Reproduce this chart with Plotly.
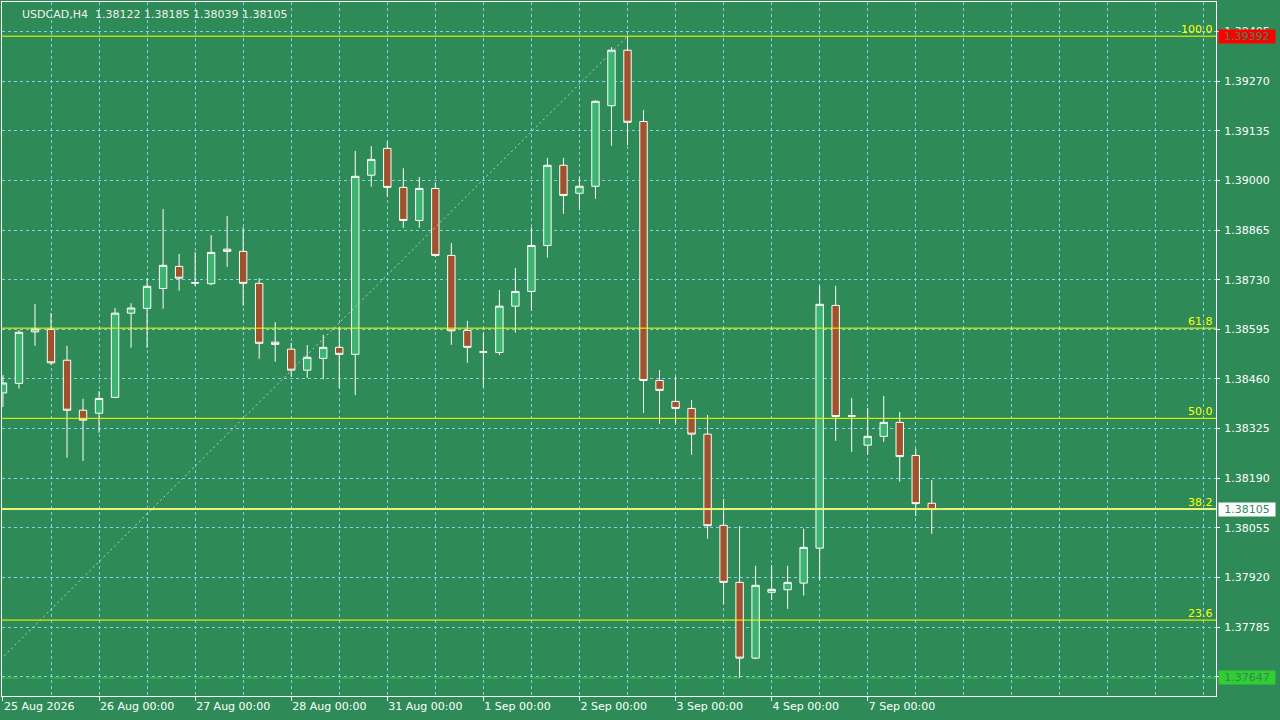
import plotly.graph_objects as go

# ---- data (USDCAD H4) ----
bar_index = list(range(59))
opens = [1.38422, 1.38448, 1.38588, 1.38595, 1.38511, 1.38375, 1.38367, 1.38410, 1.38639, 1.38652,
         1.38706, 1.38766, 1.38722, 1.38719, 1.38813, 1.38807, 1.38720, 1.38560, 1.38541, 1.38484,
         1.38516, 1.38546, 1.38527, 1.39014, 1.39087, 1.38981, 1.38891, 1.38978, 1.38796, 1.38592,
         1.38534, 1.38532, 1.38658, 1.38698, 1.38823, 1.39041, 1.38965, 1.38984, 1.39203, 1.39354,
         1.39160, 1.38456, 1.38399, 1.38380, 1.38310, 1.38062, 1.37907, 1.37701, 1.37880, 1.37887,
         1.37905, 1.38000, 1.38660, 1.38360, 1.38280, 1.38304, 1.38342, 1.38252, 1.38122]
highs = [1.38471, 1.38593, 1.38664, 1.38639, 1.38550, 1.38406, 1.38427, 1.38653, 1.38666, 1.38734,
         1.38922, 1.38800, 1.38805, 1.38851, 1.38903, 1.38872, 1.38734, 1.38615, 1.38558, 1.38552,
         1.38580, 1.38599, 1.39080, 1.39093, 1.39107, 1.39033, 1.39009, 1.38993, 1.38830, 1.38618,
         1.38586, 1.38702, 1.38762, 1.38872, 1.39061, 1.39061, 1.39010, 1.39218, 1.39362, 1.39392,
         1.39191, 1.38484, 1.38466, 1.38403, 1.38362, 1.38134, 1.38060, 1.37952, 1.37954, 1.37952,
         1.38053, 1.38713, 1.38713, 1.38408, 1.38381, 1.38414, 1.38370, 1.38270, 1.38185]
lows = [1.38384, 1.38434, 1.38550, 1.38498, 1.38246, 1.38237, 1.38314, 1.38408, 1.38545, 1.38545,
        1.38651, 1.38700, 1.38713, 1.38715, 1.38765, 1.38659, 1.38515, 1.38507, 1.38466, 1.38463,
        1.38459, 1.38435, 1.38416, 1.38983, 1.38955, 1.38871, 1.38871, 1.38792, 1.38553, 1.38504,
        1.38437, 1.38525, 1.38586, 1.38646, 1.38790, 1.38909, 1.38919, 1.38950, 1.39094, 1.39096,
        1.38368, 1.38338, 1.38339, 1.38254, 1.38026, 1.37848, 1.37647, 1.37698, 1.37859, 1.37835,
        1.37871, 1.37913, 1.38292, 1.38262, 1.38254, 1.38289, 1.38181, 1.38087, 1.38039]
closes = [1.38449, 1.38587, 1.38596, 1.38504, 1.38375, 1.38348, 1.38407, 1.38639, 1.38653, 1.38712,
          1.38769, 1.38734, 1.38721, 1.38804, 1.38807, 1.38720, 1.38557, 1.38554, 1.38484, 1.38519,
          1.38546, 1.38527, 1.39011, 1.39057, 1.38981, 1.38891, 1.38978, 1.38796, 1.38591, 1.38546,
          1.38533, 1.38658, 1.38698, 1.38823, 1.39041, 1.38959, 1.38984, 1.39215, 1.39354, 1.39158,
          1.38456, 1.38429, 1.38380, 1.38310, 1.38061, 1.37907, 1.37701, 1.37899, 1.37888, 1.37907,
          1.38002, 1.38663, 1.38358, 1.38359, 1.38304, 1.38342, 1.38249, 1.38121, 1.38105]

day_label_index = [0, 6, 12, 18, 24, 30, 36, 42, 48, 54]
day_labels = ["25 Aug 2026", "26 Aug 00:00", "27 Aug 00:00", "28 Aug 00:00", "31 Aug 00:00",
              "1 Sep 00:00", "2 Sep 00:00", "3 Sep 00:00", "4 Sep 00:00", "7 Sep 00:00"]

price_ticks = [1.37650, 1.37785, 1.37920, 1.38055, 1.38190, 1.38325, 1.38460, 1.38595,
               1.38730, 1.38865, 1.39000, 1.39135, 1.39270, 1.39405]

fib_levels = [100.0, 61.8, 50.0, 38.2, 23.6]
fib_high = 1.39392
fib_low = 1.37314
fib_start_index = -9
fib_end_index = 39

symbol_text = "USDCAD,H4"
bid_price = 1.38105
high_mark = 1.39392
low_mark = 1.37647

# ---- styles ----
BG = "#2E8B57"
GRID = "#87CEEB"
FONT = "DejaVu Sans"

fig = go.Figure()

fig.add_trace(go.Candlestick(
    x=bar_index, open=opens, high=highs, low=lows, close=closes,
    increasing=dict(line=dict(color="white", width=1), fillcolor="#3CB371"),
    decreasing=dict(line=dict(color="white", width=1), fillcolor="#A0522D"),
    whiskerwidth=0, showlegend=False, hoverinfo="skip",
))

fig.add_trace(go.Scatter(
    x=[fib_start_index, fib_end_index], y=[fib_low, fib_high], mode="lines",
    line=dict(color="#C8C8C8", width=1, dash="2px,3px"), showlegend=False, hoverinfo="skip",
))

shapes = []
annotations = []
rng = fib_high - fib_low
for lvl in fib_levels:
    p = fib_low + rng * lvl / 100.0
    shapes.append(dict(type="line", xref="paper", x0=0, x1=1, yref="y", y0=p, y1=p,
                       line=dict(color="#FFFF00", width=1), layer="above"))
    annotations.append(dict(text=f"{lvl:.1f}", xref="paper", x=1, xanchor="right", xshift=-1,
                            yref="y", y=p, yanchor="bottom", yshift=-2, showarrow=False,
                            font=dict(family=FONT, size=11, color="#FFFF00")))

# bid line and low marker line
shapes.append(dict(type="line", xref="paper", x0=0, x1=1, yref="y", y0=bid_price, y1=bid_price,
                   line=dict(color="#D8ECF2", width=1), layer="above"))
shapes.append(dict(type="line", xref="paper", x0=0, x1=1, yref="y", y0=low_mark, y1=low_mark,
                   line=dict(color="#32CD32", width=1, dash="17px,7px"), layer="above"))

for price, bg in [(high_mark, "#FF0000"), (bid_price, "#FFFFFF"), (low_mark, "#32CD32")]:
    annotations.append(dict(text=f"{price:.5f}", xref="paper", x=1, xanchor="left", xshift=2,
                            yref="y", y=price, yanchor="middle", showarrow=False,
                            width=56, height=13, borderpad=0, bgcolor=bg, align="center",
                            font=dict(family=FONT, size=11, color="#2E8B57")))

header = f"{symbol_text}  {opens[-1]:.5f} {highs[-1]:.5f} {lows[-1]:.5f} {closes[-1]:.5f}"
annotations.append(dict(text=header, xref="paper", x=0, xanchor="left", xshift=18,
                        yref="paper", y=1, yanchor="top", yshift=-4, showarrow=False,
                        font=dict(family=FONT, size=11, color="#F0F0F0")))

fig.update_layout(
    width=1280, height=720,
    paper_bgcolor=BG, plot_bgcolor=BG,
    margin=dict(l=2, r=64, t=2, b=24, autoexpand=False),
    boxgap=0.34,
    shapes=shapes, annotations=annotations,
    xaxis=dict(
        type="linear", range=[-0.06, 75.75], rangeslider=dict(visible=False),
        tickmode="array", tickvals=day_label_index, ticktext=day_labels,
        ticklabelposition="outside right",
        ticks="outside", ticklen=4, tickcolor="white", tickwidth=1,
        tickfont=dict(family=FONT, size=11, color="white"),
        showgrid=True, gridcolor=GRID, gridwidth=1, griddash="3px,3px",
        minor=dict(tick0=0, dtick=3, showgrid=True, gridcolor=GRID, gridwidth=1,
                   griddash="3px,3px", ticks=""),
        showline=True, linecolor="white", linewidth=1, mirror=True, zeroline=False,
        fixedrange=True,
    ),
    yaxis=dict(
        range=[1.37598, 1.39485], side="right",
        tickmode="array", tickvals=price_ticks, tickformat=".5f",
        ticks="outside", ticklen=3, tickcolor="white", tickwidth=1,
        ticklabelstandoff=2,
        tickfont=dict(family=FONT, size=11, color="white"),
        showgrid=True, gridcolor=GRID, gridwidth=1, griddash="3px,3px",
        showline=True, linecolor="white", linewidth=1, mirror=True, zeroline=False,
        fixedrange=True,
    ),
    showlegend=False,
)

fig.write_html("out.html", config={"displayModeBar": False},
               post_script="document.body.style.margin='0';document.body.style.background='#2E8B57';")
